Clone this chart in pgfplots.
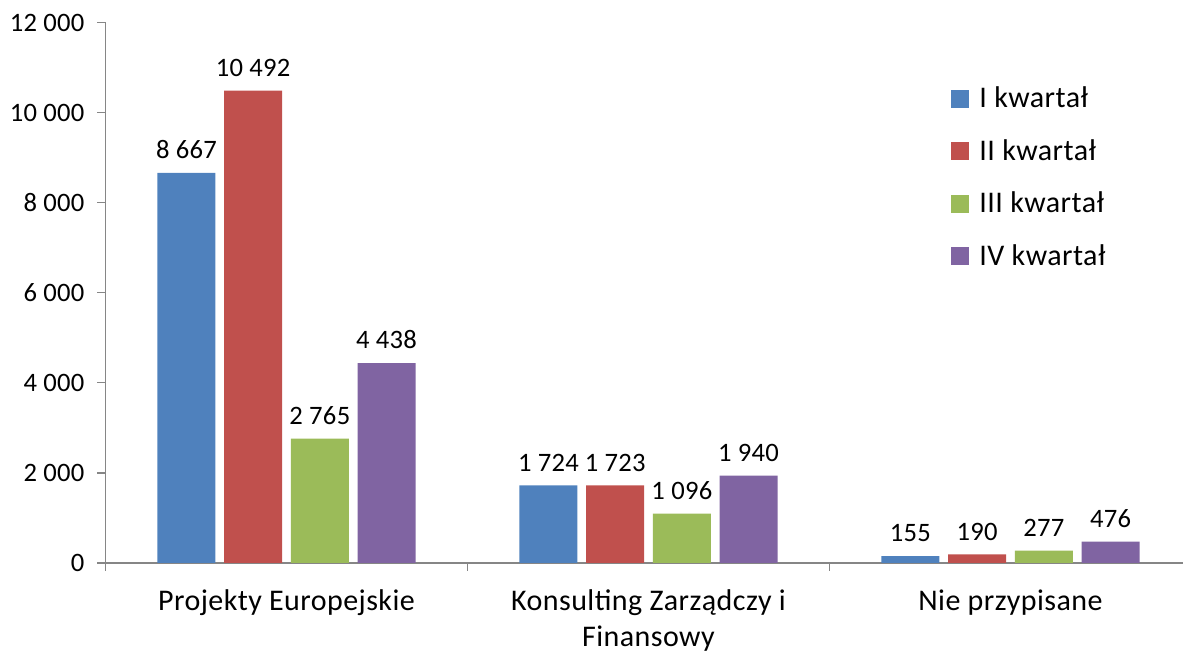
\documentclass[border=0pt]{standalone}
\usepackage{fontspec}
\setmainfont{Carlito}[LetterSpace=1.5]
\newfontfamily\numfont{Carlito}[LetterSpace=1]
\usepackage{pgfplots}
\pgfplotsset{compat=1.18}
\definecolor{cB}{HTML}{4F81BD}
\definecolor{cR}{HTML}{C0504D}
\definecolor{cG}{HTML}{9BBB59}
\definecolor{cP}{HTML}{8064A2}
\definecolor{axgray}{HTML}{868686}
\newcommand{\fs}{\fontsize{15}{18}\selectfont}
\newcommand{\fn}{\numfont\fontsize{13.3}{16}\selectfont}
\begin{document}
\begin{tikzpicture}
\begin{axis}[
  scale only axis,
  width=543pt, height=270.15pt,
  xmin=-0.5, xmax=2.5, ymin=0, ymax=12000,
  axis x line*=bottom, axis y line*=left,
  axis line style={draw=axgray, line width=0.6pt},
  ybar=4.35pt, bar width=29pt,
  xtick={-0.5,0.5,1.5,2.5}, xticklabels={},
  extra x ticks={0,1,2},
  extra x tick labels={Projekty Europejskie,{Konsulting Zarządczy i\\Finansowy},Nie przypisane},
  extra x tick style={major tick length=0pt, tick label style={font=\fs, align=center, yshift=-9.7pt}},
  ytick={0,2000,...,12000},
  scaled y ticks=false,
  tick align=outside,
  major tick length=4pt,
  tick style={draw=axgray, line width=0.6pt},
  yticklabel style={font=\fn, xshift=-3pt},
  /pgf/number format/.cd, 1000 sep={~}, assume math mode=true,
  /pgfplots/.cd,
  nodes near coords,
  every node near coord/.append style={font=\fn, text=black, yshift=3.5pt},
  legend cell align=left,
  legend image code/.code={\fill[#1] (0pt,-4.5pt) rectangle (9pt,4.5pt);},
  legend style={at={(rel axis cs:0.7786,0.8897)}, anchor=north west, draw=none, fill=none,
    inner sep=0pt, font=\fs, row sep=10.35pt, column sep=3pt},
]
\addplot[fill=cB, draw=none] coordinates {(0,8667) (1,1724) (2,155)};
\addplot[fill=cR, draw=none] coordinates {(0,10492) (1,1723) (2,190)};
\addplot[fill=cG, draw=none] coordinates {(0,2765) (1,1096) (2,277)};
\addplot[fill=cP, draw=none] coordinates {(0,4438) (1,1940) (2,476)};
\legend{I kwartał, II kwartał, III kwartał, IV kwartał}
\coordinate (o) at (rel axis cs:0,0);
\end{axis}
\pgfresetboundingbox
\path (o) ++(-52.75pt,-44.5pt) rectangle ++(591.5pt,326pt);
\end{tikzpicture}
\end{document}
